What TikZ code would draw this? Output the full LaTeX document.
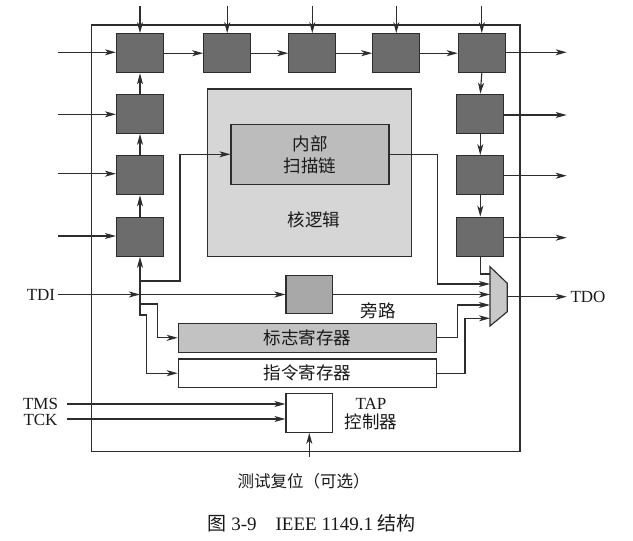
\documentclass[tikz,border=0pt]{standalone}
\usepackage{fontspec}
\setmainfont{Liberation Serif}
\newfontfamily\cjk{Noto Sans CJK SC}
\usetikzlibrary{arrows.meta}
\definecolor{ln}{RGB}{45,45,45}
\definecolor{darkbox}{RGB}{108,108,108}
\definecolor{corefill}{RGB}{214,214,214}
\definecolor{scanfill}{RGB}{188,188,188}
\definecolor{bypfill}{RGB}{168,168,168}
\definecolor{flagfill}{RGB}{194,194,194}
\definecolor{muxfill}{RGB}{200,200,200}
\begin{document}
\begin{tikzpicture}[x=1pt,y=-1pt,
  line width=1.15pt, draw=ln,
  txt/.style={font=\fontsize{17}{19}\selectfont, text=black!90, inner sep=0pt},
  cjktxt/.style={font=\fontsize{17.5}{19}\selectfont\cjk, text=black!90, inner sep=0pt},
  cell/.style={draw=ln, fill=darkbox, minimum width=47pt, minimum height=39pt, inner sep=0pt},
  plain/.style={draw=ln, inner sep=0pt},
  arr/.style={draw=ln, -{Stealth[length=11pt,width=6pt,inset=3pt]}},
  wire/.style={draw=ln}]
\useasboundingbox (0,0) rectangle (633,541);
% outer border
\draw[ln] (91.7,25) rectangle (520,451.7);
% core logic
\node[plain, fill=corefill, minimum width=204.4pt, minimum height=167.7pt] (core) at (309.5,172.85) {};
\node[plain, fill=scanfill, minimum width=158pt, minimum height=60pt, cjktxt, align=center, font=\fontsize{17.5}{22}\selectfont\cjk] (scan) at (310,154.3) {内部\\扫描链};
\node[cjktxt] (corelbl) at (314,220) {核逻辑};
% boundary cells
\node[cell] (t1) at (140,53.2) {};
\node[cell] (t2) at (227.2,53.2) {};
\node[cell] (t3) at (312.3,53.2) {};
\node[cell] (t4) at (396.3,53.2) {};
\node[cell] (t5) at (481.8,53.2) {};
\node[cell] (l1) at (140,113.8) {};
\node[cell] (l2) at (140,175.2) {};
\node[cell] (l3) at (140,236.7) {};
\node[cell] (r1) at (480.3,113.8) {};
\node[cell] (r2) at (480.3,175.2) {};
\node[cell] (r3) at (480.3,236.7) {};
% bypass, registers, TAP
\node[plain, fill=bypfill, minimum width=46.3pt, minimum height=37.3pt] (byp) at (309.2,294.5) {};
\node[cjktxt] (byplbl) at (378,311) {旁路};
\node[plain, fill=flagfill, minimum width=258.4pt, minimum height=29pt, cjktxt] (flag) at (307.5,337.8) {标志寄存器};
\node[plain, fill=white, minimum width=258.4pt, minimum height=28.3pt, cjktxt] (instr) at (307.5,373.2) {指令寄存器};
\node[plain, fill=white, minimum width=46.7pt, minimum height=39pt] (tap) at (309.3,412.8) {};
\node[txt, align=center, font=\fontsize{17}{18.5}\selectfont] (taplbl) at (371,414) {TAP\\{\fontsize{17.5}{18.5}\selectfont\cjk 控制器}};
% mux
\coordinate (m1) at (490,266.7);
\coordinate (m2) at (507.3,283.3);
\coordinate (m3) at (507.3,311.7);
\coordinate (m4) at (490,326);
\draw[fill=muxfill] (m1) -- (m2) -- (m3) -- (m4) -- cycle;
\coordinate (mout) at (507.3,296.7);
% labels
\node[txt] (tdi) at (41,294.5) {TDI};
\node[txt] (tdo) at (588,297) {TDO};
\node[txt] (tms) at (40.5,403.5) {TMS};
\node[txt] (tck) at (40.5,420) {TCK};
\node[cjktxt, font=\fontsize{16.5}{19}\selectfont\cjk] (rst) at (303.5,481.7) {测试复位（可选）};
\node[txt, font=\fontsize{19}{21}\selectfont] (cap) at (311.7,523.3) {{\cjk 图} 3-9\quad IEEE 1149.1 {\cjk 结构}};
% top inputs
\foreach \n in {t1,t2,t3,t4,t5}{
  \coordinate (\n in) at (\n.north |- 0,6);
  \draw[arr] (\n in) -- (\n.north);
}
% left inputs
\foreach \n/\y in {t1/52.3,l1/114.3,l2/173.7,l3/236}{
  \coordinate (\n src) at (58.3,\y);
  \draw[arr] (\n src) -- (\n src -| \n.west);
}
% right outputs
\foreach \n/\y in {t5/52.3,r1/115,r2/175.7,r3/237.7}{
  \coordinate (\n dst) at (566.7,\y);
  \draw[arr] (\n dst -| \n.east) -- (\n dst);
}
% chain
\draw[arr] (l3.north) -- (l2.south);
\draw[arr] (l2.north) -- (l1.south);
\draw[arr] (l1.north) -- (t1.south);
\draw[arr] (t1.east) -- (t2.west);
\draw[arr] (t2.east) -- (t3.west);
\draw[arr] (t3.east) -- (t4.west);
\draw[arr] (t4.east) -- (t5.west);
\draw[arr] (t5.south) -- (r1.north);
\draw[arr] (r1.south) -- (r2.north);
\draw[arr] (r2.south) -- (r3.north);
% TDI distribution
\coordinate (tdis) at (58.3,294.5);
\coordinate (J) at (140,294.5);
\draw[arr] (tdis) -- (J);
\draw[arr] (J) -- (byp.west);
\draw[arr] (J) -- (l3.south);
\draw[arr] (140,281) -- (180,281) -- (180,154.3) -- (scan.west);
\draw[arr] (J) -- (140,304) -- (157.3,304) -- (157.3,337.8) -- (flag.west);
\draw[arr] (140,304) -- (140,315) -- (146.7,315) -- (146.7,373.2) -- (instr.west);
% to mux
\draw[arr] (scan.east) -- (437.3,154.3) -- (437.3,284) -- (490,284);
\draw[arr] (byp.east) -- (490,294.5);
\draw[arr] (flag.east) -- (457.3,337.8) -- (457.3,305) -- (490,305);
\draw[arr] (instr.east) -- (465,373.2) -- (465,318.3) -- (490,318.3);
\draw[wire] (r3.south) -- (480.3,274) -- (490,274);
\coordinate (tdoend) at (566.7,296.7);
\draw[arr] (mout) -- (tdoend);
% TAP inputs
\coordinate (tmss) at (66.7,404);
\coordinate (tcks) at (66.7,419);
\draw[arr] (tmss) -- (tmss -| tap.west);
\draw[arr] (tcks) -- (tcks -| tap.west);
\coordinate (rsts) at (309.3,456.7);
\draw[arr] (rsts) -- (tap.south);
\end{tikzpicture}
\end{document}
